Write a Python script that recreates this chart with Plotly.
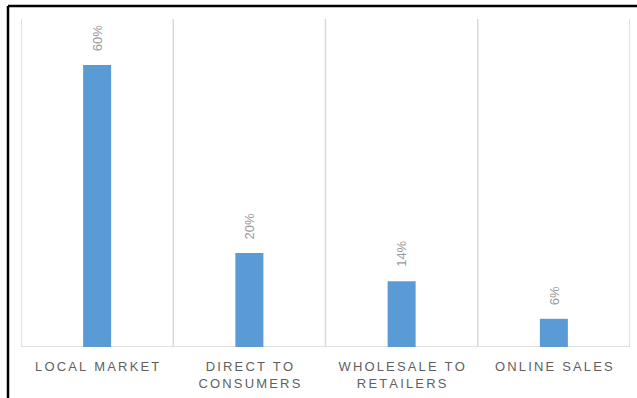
import plotly.graph_objects as go

# Sales channel shares (percent)
channels = ["LOCAL MARKET", "DIRECT TO|CONSUMERS", "WHOLESALE TO|RETAILERS", "ONLINE SALES"]
shares = [60, 20, 14, 6]
share_labels = ["60%", "20%", "14%", "6%"]

W, H = 637, 398
M_L, M_R, M_T, M_B = 21, 7, 19, 51

GAP = "\u2006"  # six-per-em space used as letter tracking


def spaced(label):
    # widen the tracking of the axis labels; "|" marks a line break
    lines = label.split("|")
    return "<br>".join(GAP.join(list(line)) for line in lines)


tick_text = [spaced(c) for c in channels]
xs = list(range(len(channels)))

fig = go.Figure()
fig.add_trace(go.Bar(
    x=xs,
    y=shares,
    width=0.184,
    marker=dict(color="#5b9bd5", line=dict(width=0)),
    hoverinfo="skip",
))

# rotated value labels above each bar
for x, v, t in zip(xs, shares, share_labels):
    fig.add_annotation(
        x=x, y=v, text=t, textangle=-90,
        showarrow=False, xanchor="center", yanchor="bottom", yshift=12,
        font=dict(family="Liberation Sans, Arial, sans-serif", size=13, color="#9a9a9a"),
    )

# vertical separators between categories
shapes = []
for b in [i - 0.5 for i in range(len(channels) + 1)]:
    shapes.append(dict(type="line", xref="x", yref="paper", x0=b, x1=b, y0=0, y1=1,
                       line=dict(color="#d9d9d9", width=1.5), layer="below"))
# baseline
shapes.append(dict(type="line", xref="paper", yref="y", x0=0, x1=1, y0=0, y1=0,
                   line=dict(color="#d9d9d9", width=1.5), layer="below"))

# outer frame (left and top edges)
pw = W - M_L - M_R
ph = H - M_T - M_B
fx = (8 - M_L) / pw
fy = 1 + (M_T - 6) / ph
shapes.append(dict(type="line", xref="paper", yref="paper", x0=fx, x1=fx, y0=-1, y1=fy,
                   line=dict(color="#000000", width=2.5)))
shapes.append(dict(type="line", xref="paper", yref="paper", x0=fx, x1=1.2, y0=fy, y1=fy,
                   line=dict(color="#000000", width=2.5)))

fig.update_layout(
    width=W, height=H,
    margin=dict(l=M_L, r=M_R, t=M_T, b=M_B, pad=0),
    paper_bgcolor="white", plot_bgcolor="white",
    showlegend=False,
    shapes=shapes,
    xaxis=dict(
        range=[-0.5, len(channels) - 0.5],
        tickmode="array", tickvals=xs, ticktext=tick_text,
        showgrid=False, zeroline=False, showline=False, ticks="",
        tickfont=dict(family="Liberation Sans, Arial, sans-serif", size=13,
                      color="#5f5f5f"),
        tickangle=0, ticklabelstandoff=10,
        fixedrange=True,
    ),
    yaxis=dict(
        range=[0, 69.8], visible=False, showgrid=False, zeroline=False,
        fixedrange=True,
    ),
)

fig.write_html("out.html")
